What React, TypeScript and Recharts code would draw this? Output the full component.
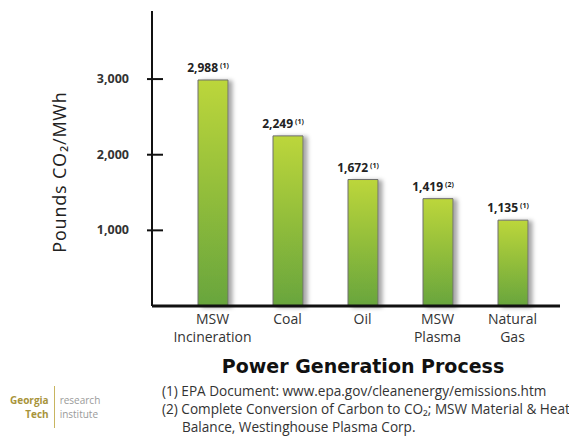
import React from "react";
import { BarChart, Bar, XAxis, YAxis, LabelList } from "recharts";

// values
const categories = ["MSW Incineration", "Coal", "Oil", "MSW Plasma", "Natural Gas"];
const emissions = [2988, 2249, 1672, 1419, 1135];
const sources = ["(1)", "(1)", "(1)", "(2)", "(1)"];
const yTicks = [1000, 2000, 3000];
const footnotes = [
  "(1) EPA Document: www.epa.gov/cleanenergy/emissions.htm",
  "(2) Complete Conversion of Carbon to CO\u2082; MSW Material & Heat",
  "Balance, Westinghouse Plasma Corp.",
];

const data = categories.map((name, i) => ({ name, value: emissions[i], src: sources[i] }));

const font = "'Open Sans', 'Noto Sans', sans-serif";

const YTick = (props: any) => {
  const { x, y, payload } = props;
  return (
    <g>
      <line x1={x - 5} x2={x + 11} y1={y} y2={y} stroke="#111" strokeWidth={2} />
      <text x={x - 23} y={y + 4} textAnchor="end" fontSize={12.5} fontWeight={700} fill="#333" fontFamily={font}>
        {payload.value.toLocaleString("en-US")}
      </text>
    </g>
  );
};

const XTick = (props: any) => {
  const { x, y, payload } = props;
  const words = String(payload.value).split(" ");
  return (
    <text x={x} y={y} textAnchor="middle" fontSize={14} fill="#333" fontFamily={font}>
      {words.map((w, i) => (
        <tspan key={i} x={x} dy={18}>
          {w}
        </tspan>
      ))}
    </text>
  );
};

const ValueLabel = (props: any) => {
  const { x, y, width, value, index } = props;
  const cx = x + width / 2 - 5;
  return (
    <text x={cx} y={y - 8} textAnchor="middle" fontFamily={font} fill="#222">
      <tspan fontSize={12} fontWeight={700}>{Number(value).toLocaleString("en-US")}</tspan>
      <tspan fontSize={7} fontWeight={700} dx={2} dy={-4}>{data[index].src}</tspan>
    </text>
  );
};

export default function App() {
  return (
    <div style={{ position: "fixed", left: 0, top: 0, width: 569, height: 436, background: "#fff", fontFamily: font, overflow: "hidden" }}>
      <BarChart
        width={569}
        height={436}
        data={data}
        margin={{ top: 11, right: 9, bottom: 100, left: 92 }}
      >
        <defs>
          <linearGradient id="barGrad" x1="0" y1="0" x2="0" y2="1">
            <stop offset="0%" stopColor="#bcd63a" />
            <stop offset="100%" stopColor="#68a53c" />
          </linearGradient>
          <filter id="shadow" x="-20%" y="-10%" width="160%" height="120%">
            <feDropShadow dx={4} dy={1} stdDeviation={2} floodColor="#000" floodOpacity={0.35} />
          </filter>
        </defs>
        <XAxis
          dataKey="name"
          height={30}
          padding={{ left: 23, right: 10 }}
          axisLine={{ stroke: "#111", strokeWidth: 3 }}
          tickLine={false}
          tickSize={0}
          tickMargin={0}
          interval={0}
          tick={<XTick />}
        />
        <YAxis
          width={60}
          domain={[0, 3900]}
          ticks={yTicks}
          axisLine={{ stroke: "#111", strokeWidth: 2 }}
          tickLine={false}
          tickSize={0}
          tickMargin={0}
          tick={<YTick />}
        />
        <Bar
          dataKey="value"
          barSize={30}
          fill="url(#barGrad)"
          stroke="#6e6e6e"
          strokeWidth={1}
          filter="url(#shadow)"
          isAnimationActive={false}
        >
          <LabelList dataKey="value" content={<ValueLabel />} />
        </Bar>
      </BarChart>

      <div
        style={{
          position: "absolute",
          left: 59,
          top: 172,
          transform: "translate(-50%, -50%) rotate(-90deg)",
          whiteSpace: "nowrap",
          fontSize: 18,
          letterSpacing: 0.8,
          color: "#222",
        }}
      >
        Pounds CO{"\u2082"}/MWh
      </div>

      <div
        style={{
          position: "absolute",
          left: 213,
          top: 355,
          width: 300,
          textAlign: "center",
          fontFamily: "'DejaVu Sans', sans-serif",
          fontWeight: 700,
          fontSize: 19,
          color: "#111",
          whiteSpace: "nowrap",
        }}
      >
        Power Generation Process
      </div>

      <div style={{ position: "absolute", left: 162, top: 382, fontSize: 13.6, lineHeight: "18px", color: "#333", whiteSpace: "nowrap" }}>
        <div>{footnotes[0]}</div>
        <div>{footnotes[1]}</div>
        <div style={{ paddingLeft: 20 }}>{footnotes[2]}</div>
      </div>

      <div style={{ position: "absolute", left: 10, top: 386, display: "flex", alignItems: "center", fontSize: 10, fontWeight: 700, lineHeight: "14px" }}>
        <div style={{ color: "#a8943a", textAlign: "right" }}>
          <div>Georgia</div>
          <div>Tech</div>
        </div>
        <div style={{ width: 1, height: 42, background: "#c8b560", margin: "0 5px" }} />
        <div style={{ color: "#9a9a9a", fontWeight: 400 }}>
          <div>research</div>
          <div>institute</div>
        </div>
      </div>
    </div>
  );
}
